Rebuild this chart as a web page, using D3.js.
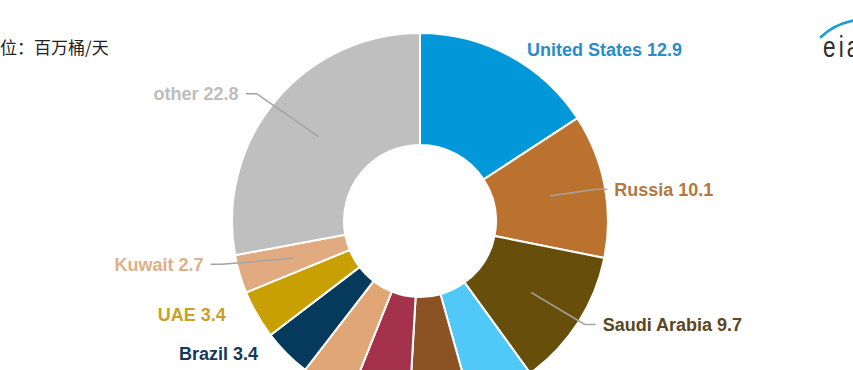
<!DOCTYPE html>
<html>
<head>
<meta charset="utf-8">
<script src="https://cdn.jsdelivr.net/npm/d3@7"></script>
<style>
  html, body { margin: 0; padding: 0; background: #fff; overflow: hidden; }
  svg { display: block; }
</style>
</head>
<body>
<svg id="chart" width="853" height="370"></svg>
<script>
// ---- data (million barrels per day) ----
const countries = ["United States", "Russia", "Saudi Arabia", "Canada", "Iraq", "China", "Iran", "Brazil", "UAE", "Kuwait", "other"];
const values    = [12.9, 10.1, 9.7, 4.6, 4.3, 4.2, 3.6, 3.4, 3.4, 2.7, 22.8];
const sliceColors = ["#0098d8", "#bc722f", "#674f0b", "#50c8f8", "#8b5223", "#a4324a", "#e0a676", "#053a5c", "#c9a004", "#e2aa80", "#bfbfbf"];
const labelColors = ["#2a8ccc", "#b27840", "#5a4720", "#3fb6e6", "#7d4a22", "#9a3046", "#d9a070", "#13395a", "#c8a02a", "#e0ae88", "#bdbdbd"];
const unitLabel = "单位：百万桶/天";

// ---- layout config ----
const W = 853, H = 370;
const cx = 420, cy = 221;
const rOuter = 188, rInner = 76;
const labelR = 210;
// small label nudges (px) applied to the arc-based label anchor
const labelNudge = {
  "United States": [7, 13], "Russia": [-12, 8], "Saudi Arabia": [6, -10],
  "Brazil": [-13, -16], "UAE": [-12, -11], "Kuwait": [-15, -16], "other": [-20, 7]
};
const withConnector = new Set(["Russia", "Saudi Arabia", "Kuwait", "other"]);

const svg = d3.select("#chart");

// unit label (partly cut at the left edge, as in the source)
svg.append("text")
  .attr("x", -17).attr("y", 54)
  .attr("font-family", "'Noto Sans CJK SC', sans-serif")
  .attr("font-size", 17)
  .attr("fill", "#222")
  .text(unitLabel);

// eia logo
const logo = svg.append("g");
logo.append("path")
  .attr("d", "M821,37 Q834,24 856,20")
  .attr("fill", "none").attr("stroke", "#1b9bd8").attr("stroke-width", 2.6).attr("stroke-linecap", "round");
logo.append("text")
  .attr("transform", "translate(823,57) scale(0.78,1)")
  .attr("font-family", "'Liberation Sans', Arial, sans-serif")
  .attr("font-size", 29)
  .attr("letter-spacing", 4)
  .attr("fill", "#2e2e2e")
  .text("eia");

const data = countries.map((c, i) => ({ name: c, value: values[i], color: sliceColors[i], lcolor: labelColors[i] }));

const pie = d3.pie().sort(null).value(d => d.value);
const arcs = pie(data);

const arc = d3.arc().innerRadius(rInner).outerRadius(rOuter);
const midArc = d3.arc().innerRadius((rInner + rOuter) / 2).outerRadius((rInner + rOuter) / 2);

const g = svg.append("g").attr("transform", `translate(${cx},${cy})`);

g.selectAll("path.slice")
  .data(arcs)
  .join("path")
  .attr("class", "slice")
  .attr("d", arc)
  .attr("fill", d => d.data.color)
  .attr("stroke", "#fff")
  .attr("stroke-width", 2);

// labels (those falling below the visible frame are not drawn, as in the source crop)
arcs.forEach(d => {
  const a = (d.startAngle + d.endAngle) / 2;
  const nudge = labelNudge[d.data.name] || [0, 0];
  const right = a < Math.PI;
  const lx = labelR * Math.sin(a) + nudge[0];
  const ly = -labelR * Math.cos(a) + nudge[1];
  if (cy + ly > H - 8) return;

  if (withConnector.has(d.data.name)) {
    const [sx, sy] = midArc.centroid(d);
    const s = right ? 1 : -1;
    const pts = [[sx, sy], [lx - s * 18, ly], [lx - s * 7, ly]];
    g.append("path")
      .attr("d", d3.line()(pts))
      .attr("fill", "none")
      .attr("stroke", "#a3a3a3")
      .attr("stroke-width", 1.5);
  }

  g.append("text")
    .attr("x", lx).attr("y", ly)
    .attr("dy", "0.36em")
    .attr("text-anchor", right ? "start" : "end")
    .attr("font-family", "'Liberation Sans', Arial, sans-serif")
    .attr("font-weight", "bold")
    .attr("font-size", 18)
    .attr("fill", d.data.lcolor)
    .text(`${d.data.name} ${d.data.value}`);
});
</script>
</body>
</html>
